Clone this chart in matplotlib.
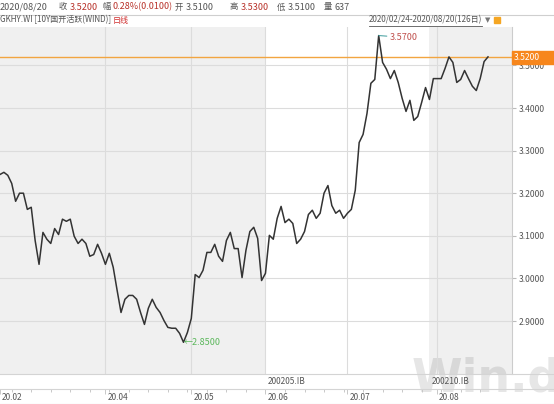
import matplotlib
matplotlib.use("Agg")
import matplotlib.pyplot as plt
import matplotlib.transforms as mtransforms
from matplotlib.patches import Rectangle
from matplotlib.lines import Line2D

plt.rcParams['font.family'] = ['Noto Sans CJK SC', 'DejaVu Sans']

W, H = 554, 404

# daily close, 10Y CDB active bond yield, 2020/02/24 - 2020/08/20 (126 days)
close = [3.244, 3.249, 3.242, 3.223, 3.181, 3.200, 3.200, 3.162, 3.167, 3.089,
         3.033, 3.108, 3.092, 3.082, 3.117, 3.103, 3.139, 3.134, 3.139, 3.099,
         3.082, 3.092, 3.082, 3.052, 3.056, 3.080, 3.059, 3.033, 3.059, 3.026,
         2.972, 2.920, 2.951, 2.960, 2.960, 2.951, 2.920, 2.892, 2.930, 2.951,
         2.932, 2.920, 2.901, 2.885, 2.883, 2.883, 2.871, 2.850, 2.873, 2.906,
         3.009, 3.002, 3.019, 3.061, 3.061, 3.080, 3.052, 3.040, 3.089, 3.108,
         3.070, 3.070, 3.002, 3.066, 3.110, 3.120, 3.094, 2.995, 3.012, 3.101,
         3.092, 3.141, 3.169, 3.131, 3.139, 3.129, 3.082, 3.092, 3.110, 3.150,
         3.160, 3.141, 3.153, 3.200, 3.218, 3.171, 3.153, 3.160, 3.141, 3.153,
         3.162, 3.207, 3.319, 3.338, 3.387, 3.458, 3.467, 3.570, 3.507, 3.491,
         3.469, 3.488, 3.460, 3.423, 3.392, 3.418, 3.371, 3.380, 3.413, 3.448,
         3.420, 3.469, 3.469, 3.469, 3.493, 3.520, 3.507, 3.460, 3.467, 3.488,
         3.469, 3.451, 3.441, 3.469, 3.509, 3.520]

month_labels = ['20.02', '20.04', '20.05', '20.06', '20.07', '20.08']
month_idx = [0, 27, 49, 68, 89, 112]
contracts = ['200205.IB', '200210.IB']
roll_idx = [68, 110]
y_ticks = [2.9, 3.0, 3.1, 3.2, 3.3, 3.4, 3.5]

header_date = '2020/08/20'
header_items = [('收', '3.5200'), ('幅', '0.28%(0.0100)'), ('开', '3.5100'),
                ('高', '3.5300'), ('低', '3.5100'), ('量', '637')]
header_red = [True, True, False, True, False, False]
title = 'GKHY.WI [10Y国开活跃(WIND)]'
period = '2020/02/24-2020/08/20(126日)'

last = close[-1]
hi = max(close)
lo = min(close)
hi_i = close.index(hi)
lo_i = close.index(lo)

fig = plt.figure(figsize=(W / 100, H / 100), dpi=100)
fig.patch.set_facecolor('white')
renderer = fig.canvas.get_renderer()
# pixel coords, y measured from top
px = mtransforms.Affine2D().scale(1 / W, -1 / H).translate(0, 1) + fig.transFigure

RED = '#b8322a'
GRAY = '#555555'


def put(x, y, s, **kw):
    t = fig.text(x, y, s, transform=px, va='center', **kw)
    return t.get_window_extent(renderer).x1


# header row 1
lab_x = [59, 102, 175, 230, 277, 324]
put(0, 7, header_date, fontsize=6.5, color=GRAY)
for (lab, val), red, lx in zip(header_items, header_red, lab_x):
    end = put(lx, 7, lab, fontsize=6, color=GRAY)
    put(end + 2.5, 7, val, fontsize=6.5, color=RED if red else GRAY)
fig.add_artist(Line2D([0, W], [14.5, 14.5], transform=px, color='#cfcfcf', lw=0.8))

# header row 2
end = put(0, 20, title, fontsize=5.8, color=GRAY)
put(end + 2, 20, '日线', fontsize=5.8, color='#d03030')
end = put(369, 20, period, fontsize=5.8, color=GRAY)
fig.add_artist(Line2D([369, end], [25.5, 25.5], transform=px, color=GRAY, lw=0.6))
put(end + 3, 20, '▼', fontsize=5, color='#777777', family=['DejaVu Sans'])
fig.add_artist(Rectangle((end + 12, 17), 6, 6, transform=px, color='#f5a623'))

# watermark
fig.text(412, 392, 'Win.d', transform=px, fontsize=33, weight='bold',
         color='#e6e6e6', va='baseline', family=['DejaVu Sans'], zorder=-1)

ax = fig.add_axes([0, (H - 374) / H, 512 / W, (374 - 27) / H])
ax.patch.set_visible(False)
step = 488 / (len(close) - 1)
ax.set_xlim(0, 512 / step)
ax.set_ylim(3.5 - (374 - 65.4) / 426, 3.5 + (65.4 - 27) / 426)

# contract bands
ax.axvspan(-1, roll_idx[0], color='black', alpha=0.06, lw=0, zorder=0)
ax.axvspan(roll_idx[1], 200, color='black', alpha=0.06, lw=0, zorder=0)

for v in y_ticks:
    ax.axhline(v, color='#dcdcdc', lw=0.8, zorder=1)
for m in month_idx[1:]:
    ax.axvline(m, color='#dcdcdc', lw=0.8, zorder=1)

ax.axhline(last, color='#f2a541', lw=1, zorder=2)
ax.plot(range(len(close)), close, color='#333333', lw=1.1, zorder=3)

ax.annotate('%.4f' % hi, xy=(hi_i, hi), xytext=(hi_i + 2.8, hi - 0.004),
            fontsize=6.5, color='#c0504d', va='center',
            arrowprops=dict(arrowstyle='-', color='#3a9a9a', lw=0.7, shrinkA=0, shrinkB=0))
ax.text(lo_i + 0.1, lo, '←%.4f' % lo, fontsize=6.5, color='#5cb85c', va='center')

ax.set_xticks([])
ax.yaxis.tick_right()
ax.set_yticks(y_ticks)
ax.set_yticklabels(['%.4f' % v for v in y_ticks])
ax.tick_params(axis='y', length=3, color='#bbbbbb', labelcolor=GRAY, labelsize=6.2, pad=2)
for s in ['left', 'top', 'bottom']:
    ax.spines[s].set_visible(False)
ax.spines['right'].set_color('#cccccc')

# last value tag
fig.add_artist(Rectangle((512, 50.5), 42, 13, transform=px, color='#f7861c', zorder=5))
fig.text(514, 57, '%.4f' % last, transform=px, fontsize=6.2, color='white',
         va='center', zorder=6)

# bottom strip: contracts and months
for yy in [374, 389, 403.5]:
    fig.add_artist(Line2D([0, W], [yy, yy], transform=px, color='#d4d4d4', lw=0.8))
bx = mtransforms.blended_transform_factory(ax.transData, px)
for c, r in zip(contracts, roll_idx):
    ax.text(r + 0.6, 381.5, c, transform=bx, fontsize=6, color=GRAY, va='center', clip_on=False)
for m, i in zip(month_labels, month_idx):
    ax.text(i + 0.5, 397, m, transform=bx, fontsize=6, color=GRAY, va='center', clip_on=False)
ticks = list(range(3, len(close), 5))
ax.vlines(ticks, 389, 392, transform=bx, color='#c8c8c8', lw=0.7, clip_on=False)
ax.vlines(month_idx, 389, 394, transform=bx, color='#c8c8c8', lw=0.7, clip_on=False)

fig.savefig('out.png', dpi=100)
